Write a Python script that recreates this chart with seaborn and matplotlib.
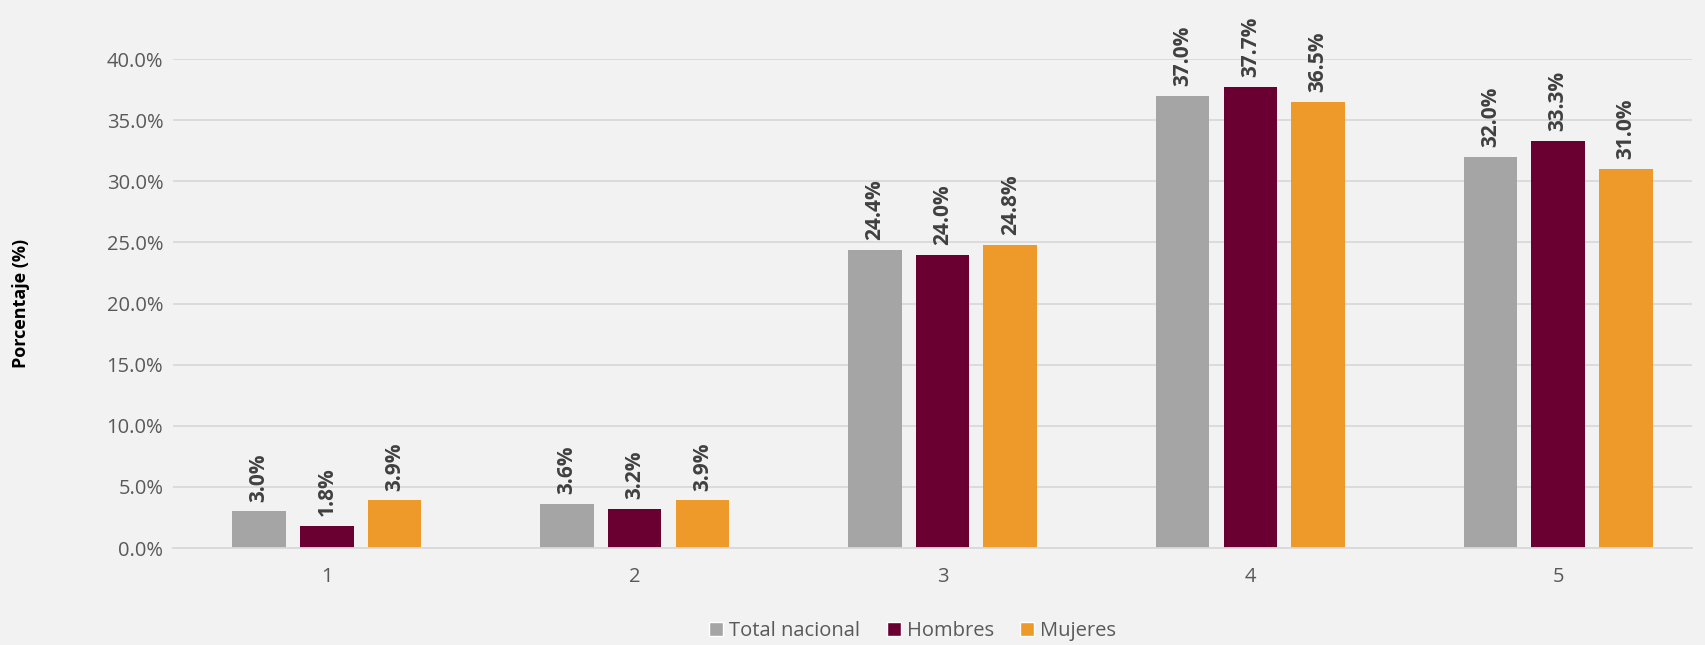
import pandas as pd
import matplotlib.pyplot as plt
import seaborn as sns
from matplotlib.patches import Patch

# Datos
categorias = ['1', '2', '3', '4', '5']
series = ['Total nacional', 'Hombres', 'Mujeres']
total_nacional = [3.0, 3.6, 24.4, 37.0, 32.0]
hombres = [1.8, 3.2, 24.0, 37.7, 33.3]
mujeres = [3.9, 3.9, 24.8, 36.5, 31.0]
colores = ['#A5A5A5', '#6A0032', '#EE9A2A']

df = pd.DataFrame({
    'Categoria': categorias * 3,
    'Serie': [s for s in series for _ in categorias],
    'Valor': total_nacional + hombres + mujeres,
})

sns.set_theme(style='white')
plt.rcParams['font.family'] = ['Open Sans', 'DejaVu Sans']

fig = plt.figure(figsize=(17.06, 6.45), dpi=100, facecolor='#F2F2F2')
ax = fig.add_axes([173 / 1706, 1 - 548 / 645, (1692 - 173) / 1706, (548 - 59) / 645])
ax.set_facecolor('#F2F2F2')

sns.barplot(data=df, x='Categoria', y='Valor', hue='Serie', hue_order=series,
            palette=colores, width=0.66, gap=0.21, ax=ax, legend=False,
            saturation=1, linewidth=0)

for cont in ax.containers:
    ax.bar_label(cont, fmt='%.1f%%', rotation=90, padding=7, fontsize=15,
                 fontweight='bold', color='#404040', clip_on=False)

ax.set_ylim(0, 40)
ax.set_xlim(-0.5, 4.435)
ax.set_yticks(range(0, 41, 5))
ax.set_yticklabels([f'{v:.1f}%' for v in range(0, 41, 5)])
ax.tick_params(axis='both', length=0, labelsize=14.5, labelcolor='#595959')
ax.tick_params(axis='y', pad=7)
ax.tick_params(axis='x', pad=14)
ax.grid(axis='y', color='#D9D9D9', linewidth=1.3)
ax.set_axisbelow(True)
for s in ['top', 'right', 'left']:
    ax.spines[s].set_visible(False)
ax.spines['bottom'].set_color('#D9D9D9')
ax.spines['bottom'].set_linewidth(1.3)

ax.set_xlabel('')
ax.set_ylabel('Porcentaje (%)', fontsize=13, fontweight='bold', color='black')
ax.yaxis.set_label_coords(-143 / (1692 - 173), 0.5)

handles = [Patch(facecolor=c, label=s) for s, c in zip(series, colores)]
fig.legend(handles=handles, loc='center', bbox_to_anchor=(0.535, 1 - 631 / 645),
           ncol=3, frameon=False, fontsize=14.5, labelcolor='#595959',
           handlelength=0.7, handleheight=0.7, handletextpad=0.3,
           columnspacing=1.3)

fig.savefig('out.png', dpi=100, facecolor=fig.get_facecolor())
